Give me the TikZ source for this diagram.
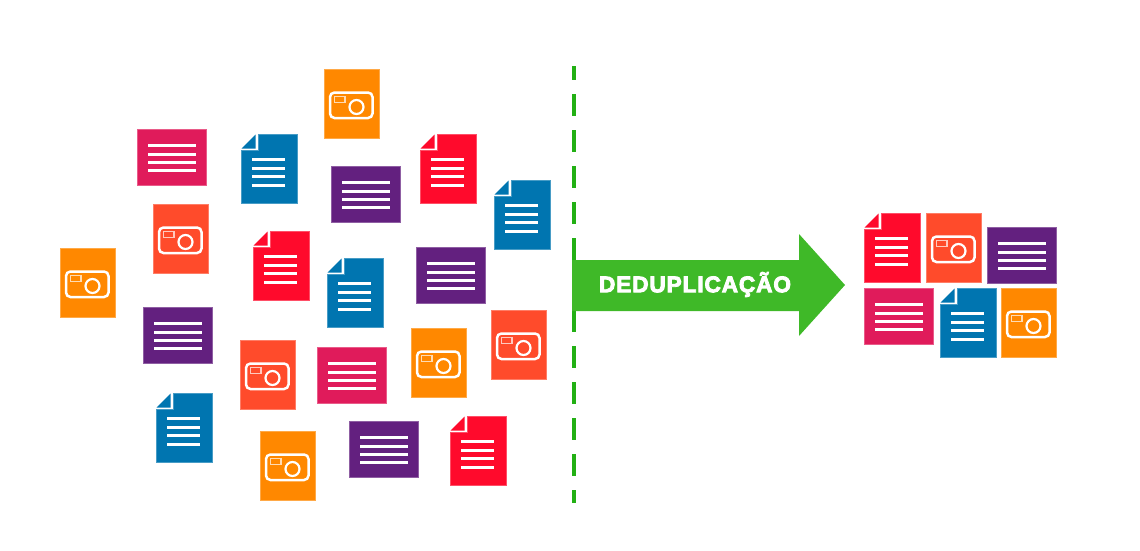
\documentclass[tikz,border=0pt]{standalone}
\usepackage{fontspec}
\setmainfont{Liberation Sans}
\newfontfamily\labelfont[FakeBold=4,LetterSpace=4]{Liberation Sans Bold}
\definecolor{cOrange}{HTML}{FF8800}
\definecolor{cCoral}{HTML}{FF4B2B}
\definecolor{cMagenta}{HTML}{E01B5B}
\definecolor{cPurple}{HTML}{63207F}
\definecolor{cBlue}{HTML}{0075B0}
\definecolor{cRed}{HTML}{FF0A2C}
\definecolor{cArrow}{HTML}{3FB928}
\definecolor{cDash}{HTML}{22B014}
\tikzset{
  x=1pt,y=-1pt,
  rule/.style={white,line width=2.7pt},
  edge/.style={fill=#1,draw=#1!72!white,line width=.6pt},
  photocard/.pic={
    \path[edge=#1] (0,0) rectangle (55.6,69.6);
    \draw[white,line width=2.5pt,rounded corners=4.5pt] (6,23.5) rectangle (48.5,49);
    \draw[white,opacity=.7,line width=1.2pt] (10.5,27.5) rectangle (21,33.5);
    \draw[white,line width=2.2pt] (32.5,38) circle[radius=7];
  },
  textcard/.pic={
    \path[edge=#1] (0,0) rectangle (69.6,56);
    \foreach \ly in {16.2,25.2,33.2,41.2} \draw[rule] (11,\ly) -- (59,\ly);
  },
  doccard/.pic={
    \path[edge=#1] (17,0) -- (56.6,0) -- (56.6,69.6) -- (0,69.6) -- (0,16.5) -- (17,16.5) -- cycle;
    \path[fill=#1] (.5,14.5) -- (14.5,14.5) -- (14.5,.5) -- cycle;
    \foreach \ly in {25.2,34.2,42.2,51.2} \draw[rule] (11,\ly) -- (44,\ly);
  }
}
\begin{document}
\begin{tikzpicture}
\useasboundingbox (0,0) rectangle (1140,550);
% dashed divider
\coordinate (dashTop) at (574,66);
\coordinate (dashBot) at (574,503);
\draw[cDash,line width=4pt,dash pattern=on 22pt off 14pt,dash phase=8pt] (dashTop) -- (dashBot);
% arrow
\path[fill=cArrow] (572,260) -- (799,260) -- (799,234) -- (845,285) -- (799,336) -- (799,311) -- (572,311) -- cycle;
\node[text=white,inner sep=0pt,font=\labelfont\fontsize{22.6}{23}\selectfont] (label) at (695,284.5) {DEDUPLICAÇÃO};
% photo cards
\pic (p1) at (324,69) {photocard=cOrange};
\pic (p2) at (60,248) {photocard=cOrange};
\pic (p3) at (411,328) {photocard=cOrange};
\pic (p4) at (260,431) {photocard=cOrange};
\pic (p5) at (1001,288) {photocard=cOrange};
\pic (p6) at (153,204) {photocard=cCoral};
\pic (p7) at (240,340) {photocard=cCoral};
\pic (p8) at (491,310) {photocard=cCoral};
\pic (p9) at (926,213) {photocard=cCoral};
% text cards
\pic (t1) at (137,129) {textcard=cMagenta};
\pic (t2) at (317,347) {textcard=cMagenta};
\pic (t3) at (864,288) {textcard=cMagenta};
\pic (t4) at (331,166) {textcard=cPurple};
\pic (t5) at (416,247) {textcard=cPurple};
\pic (t6) at (143,307) {textcard=cPurple};
\pic (t7) at (349,421) {textcard=cPurple};
\pic (t8) at (987,227) {textcard=cPurple};
% document cards
\pic (d1) at (241,134) {doccard=cBlue};
\pic (d2) at (494,180) {doccard=cBlue};
\pic (d3) at (327,258) {doccard=cBlue};
\pic (d4) at (156,393) {doccard=cBlue};
\pic (d5) at (940,288) {doccard=cBlue};
\pic (d6) at (420,134) {doccard=cRed};
\pic (d7) at (253,231) {doccard=cRed};
\pic (d8) at (450,416) {doccard=cRed};
\pic (d9) at (864,213) {doccard=cRed};
\end{tikzpicture}
\end{document}
